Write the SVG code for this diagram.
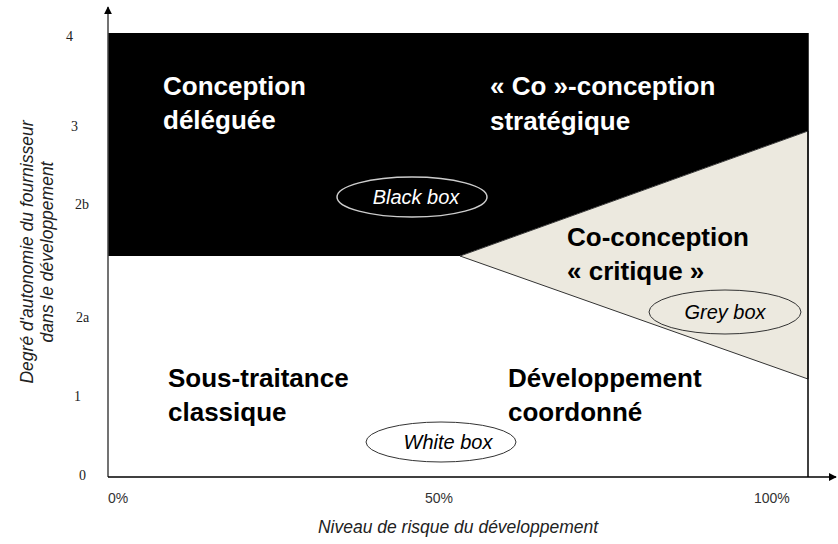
<svg xmlns="http://www.w3.org/2000/svg" width="838" height="544" viewBox="0 0 838 544">
<style>
.big{font-family:"Liberation Sans",Arial,sans-serif;font-weight:bold;font-size:26px}
.w{fill:#fff}
.k{fill:#000}
.ell{font-family:"Liberation Sans",Arial,sans-serif;font-style:italic;font-size:20px;text-anchor:middle}
.tick{font-family:"Liberation Serif","Times New Roman",serif;font-size:14px;fill:#222}
.pct{font-family:"Liberation Sans",Arial,sans-serif;font-size:14px;fill:#333}
.title{font-family:"Liberation Sans",Arial,sans-serif;font-style:italic;font-size:17.5px;fill:#222;text-anchor:middle}
</style>
<defs>
<marker id="arr" viewBox="0 0 10 10" refX="9" refY="5" markerWidth="8" markerHeight="8" markerUnits="userSpaceOnUse" orient="auto"><path d="M0,0 L10,5 L0,10 z" fill="#000"/></marker>
</defs>
<rect width="838" height="544" fill="#fff"/>
<g id="regions">
<polygon points="108,33 808,33 808,131 460,256 108,256" fill="#000"/>
<polygon points="460,256 808,131 808,379" fill="#ece9df" stroke="#333" stroke-width="1"/>
<line x1="808" y1="33" x2="808" y2="477" stroke="#000" stroke-width="1.5"/>
</g>
<g id="connectors">
<line x1="108" y1="477" x2="108" y2="7" stroke="#444" stroke-width="1.5" marker-end="url(#arr)"/>
<line x1="108" y1="477" x2="836" y2="477" stroke="#000" stroke-width="1.5" marker-end="url(#arr)"/>
</g>
<g id="conception-deleguee"><text class="big w" x="163" y="95">Conception</text><text class="big w" x="163" y="129">déléguée</text></g>
<g id="co-conception-strategique"><text class="big w" x="490" y="95">« Co »-conception</text><text class="big w" x="490" y="130">stratégique</text></g>
<g id="co-conception-critique"><text class="big k" x="567" y="246">Co-conception</text><text class="big k" x="567" y="280">« critique »</text></g>
<g id="sous-traitance"><text class="big k" x="168" y="387">Sous-traitance</text><text class="big k" x="168" y="421">classique</text></g>
<g id="developpement-coordonne"><text class="big k" x="508" y="387">Développement</text><text class="big k" x="508" y="421">coordonné</text></g>
<g id="black-box"><ellipse cx="412" cy="197" rx="75" ry="20" fill="none" stroke="#ccc" stroke-width="1.5"/><text class="ell w" x="416" y="204">Black box</text></g>
<g id="grey-box"><ellipse cx="725" cy="312" rx="76" ry="22" fill="none" stroke="#333" stroke-width="1"/><text class="ell k" x="725" y="319">Grey box</text></g>
<g id="white-box"><ellipse cx="441" cy="442" rx="75" ry="20" fill="none" stroke="#333" stroke-width="1"/><text class="ell k" x="448" y="449">White box</text></g>
<g id="y-ticks">
<text class="tick" x="66" y="41">4</text>
<text class="tick" x="71" y="131">3</text>
<text class="tick" x="75" y="209">2b</text>
<text class="tick" x="76" y="322">2a</text>
<text class="tick" x="74" y="401">1</text>
<text class="tick" x="79" y="480">0</text>
</g>
<g id="x-ticks">
<text class="pct" x="108" y="503">0%</text>
<text class="pct" x="425" y="503">50%</text>
<text class="pct" x="754" y="503">100%</text>
</g>
<text class="title" x="458" y="533">Niveau de risque du développement</text>
<g transform="translate(37,252) rotate(-90)">
<text class="title" x="0" y="-4">Degré d'autonomie du fournisseur</text>
<text class="title" x="0" y="16">dans le développement</text>
</g>
</svg>
